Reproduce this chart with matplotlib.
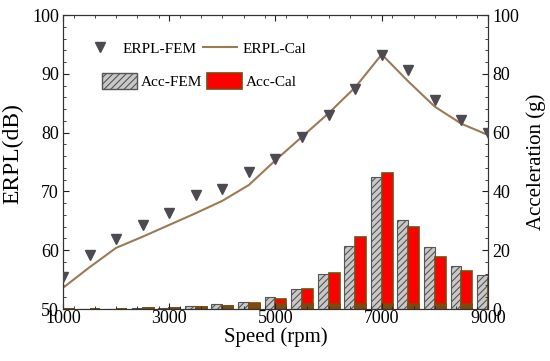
import numpy as np
import matplotlib
matplotlib.use('Agg')
import matplotlib.pyplot as plt
from matplotlib.ticker import MultipleLocator, AutoMinorLocator
from matplotlib.patches import Patch
from matplotlib.lines import Line2D

plt.rcParams['font.family'] = ['Liberation Serif', 'DejaVu Serif']
plt.rcParams['hatch.color'] = '#555555'
plt.rcParams['hatch.linewidth'] = 0.8

speed = [1000, 1500, 2000, 2500, 3000, 3500, 4000, 4500, 5000,
         5500, 6000, 6500, 7000, 7500, 8000, 8500, 9000]
erpl_fem = [55.5, 59.2, 61.9, 64.3, 66.4, 69.4, 70.4, 73.3, 75.5,
            79.3, 83.0, 87.5, 93.2, 90.6, 85.5, 82.1, 80.0]
erpl_cal = [53.6, 57.1, 60.4, 62.3, 64.3, 66.3, 68.4, 71.1, 75.3,
            79.3, 83.3, 87.7, 93.3, 88.7, 84.4, 81.5, 79.6]
acc_fem = [0.05, 0.08, 0.15, 0.3, 0.5, 0.9, 1.6, 2.3, 4.0,
           6.7, 11.8, 21.4, 45.0, 30.3, 21.0, 14.6, 11.5]
acc_cal = [0.03, 0.06, 0.1, 0.2, 0.4, 0.7, 1.1, 1.9, 3.5,
           6.7, 12.4, 24.4, 46.1, 28.0, 17.6, 12.8, 10.5]
xticks = [1000, 3000, 5000, 7000, 9000]

x = np.array(speed)
w = 205
brown = '#7a4a10'
line_col = '#9c7a54'

fig = plt.figure(figsize=(5.5, 3.61), dpi=100)
ax1 = fig.add_axes([63/550, 1 - 309/361, 425/550, 294/361])
ax2 = ax1.twinx()

# bars on the right axis
ax2.bar(x - w/2, acc_fem, width=w, color='#c8c8c8', edgecolor='#555555',
        hatch='/////', linewidth=0.8, zorder=1)
ax2.bar(x + w/2, acc_cal, width=w, color='#ff0000', edgecolor=brown,
        linewidth=1.2, zorder=1)
ax2.bar(x + w/2, np.minimum(acc_cal, 1.7), width=w, color=brown,
        edgecolor=brown, linewidth=1.2, zorder=2)

# ERPL on left axis, drawn above the bars
ax1.set_zorder(ax2.get_zorder() + 1)
ax1.patch.set_visible(False)
ax1.plot(x, erpl_cal, color=line_col, lw=1.5, zorder=2)
ax1.plot(x, erpl_fem, 'v', color='#4d4a52', ms=7, zorder=3)

ax1.set_xlim(1000, 9000)
ax1.set_ylim(50, 100)
ax2.set_ylim(0, 100)
ax1.set_xticks(xticks)
ax1.xaxis.set_minor_locator(MultipleLocator(400))
ax1.yaxis.set_major_locator(MultipleLocator(10))
ax1.yaxis.set_minor_locator(AutoMinorLocator(5))
ax2.yaxis.set_major_locator(MultipleLocator(20))
ax2.yaxis.set_minor_locator(AutoMinorLocator(5))

for ax in (ax1, ax2):
    ax.tick_params(which='both', direction='in', labelsize=13, colors='#222222',
                   labelcolor='black')
    ax.tick_params(which='major', length=4)
    ax.tick_params(which='minor', length=2.5)
    for s in ax.spines.values():
        s.set_color('#333333')
ax1.tick_params(axis='x', which='both', top=True, pad=1)
ax1.tick_params(axis='y', pad=3)
ax2.tick_params(axis='y', pad=3)

ax1.set_xlabel('Speed (rpm)', fontsize=15, labelpad=0)
ax1.set_ylabel('ERPL(dB)', fontsize=17)
ax1.yaxis.set_label_coords(-0.093, 0.53)
ax2.set_ylabel('Acceleration (g)', fontsize=15, labelpad=5)

h1 = [Line2D([], [], ls='none', marker='v', color='#4d4a52', ms=7),
      Line2D([], [], color=line_col, lw=1.5)]
leg1 = ax1.legend(h1, ['ERPL-FEM', 'ERPL-Cal'], ncol=2, frameon=False,
                  fontsize=11, loc='center left', bbox_to_anchor=(0.015, 0.885),
                  handlelength=2.2, columnspacing=0.4, handletextpad=0.4)
h2 = [Patch(facecolor='#c8c8c8', edgecolor='#555555', hatch='/////'),
      Patch(facecolor='#ff0000', edgecolor=brown, lw=1.2)]
ax1.add_artist(leg1)
ax1.legend(h2, ['Acc-FEM', 'Acc-Cal'], ncol=2, frameon=False, fontsize=11,
           loc='center left', bbox_to_anchor=(0.06, 0.776),
           handlelength=2.3, handleheight=1.3, columnspacing=0.3,
           handletextpad=0.25)

fig.savefig('out.png', dpi=100)
